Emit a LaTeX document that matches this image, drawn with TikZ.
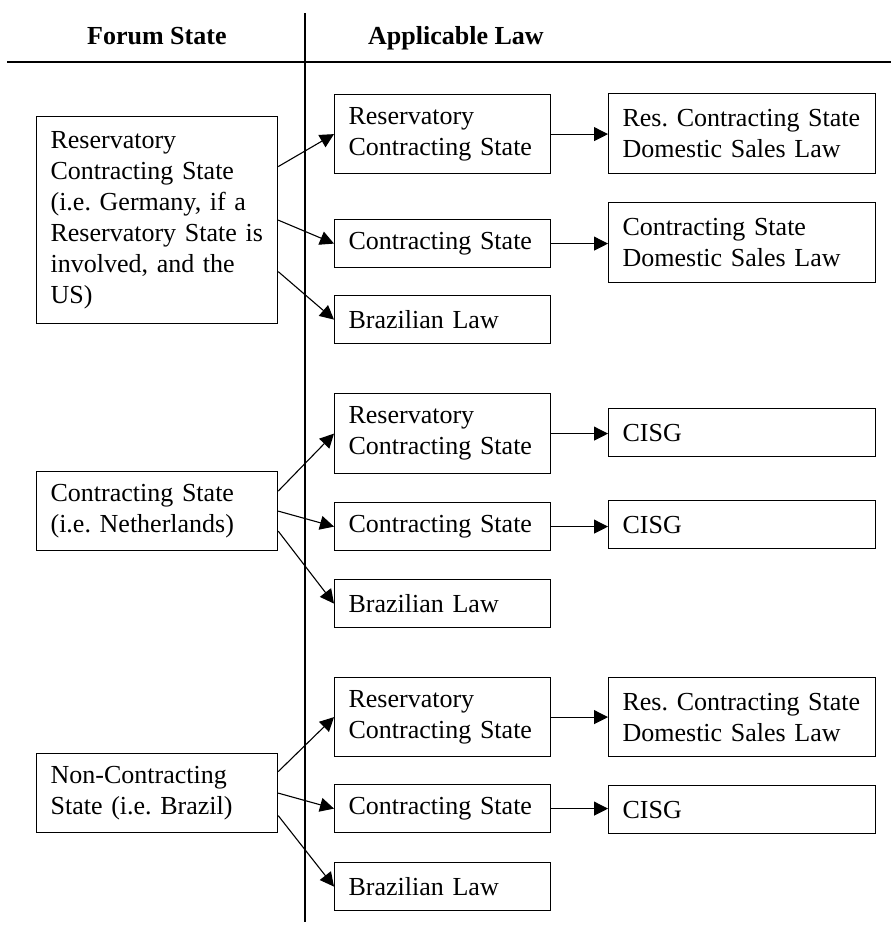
\documentclass[tikz,border=0pt]{standalone}
\usepackage{fontspec}
\setmainfont{Liberation Serif}
\usetikzlibrary{arrows.meta}
\frenchspacing
\begin{document}
\begin{tikzpicture}[x=1pt,y=1pt,
  every node/.style={font=\fontsize{26}{31}\selectfont\frenchspacing},
  box/.style={draw, line width=1.2pt, anchor=north west, inner xsep=14pt, inner ysep=0pt, align=left},
  lbox/.style={box, text width=213pt, minimum width=241pt},
  mbox/.style={box, text width=188pt, minimum width=216pt},
  rbox/.style={box, text width=239pt, minimum width=267pt},
  arr/.style={line width=1.1pt, -{Triangle[length=14pt,width=14pt]}},
  rule/.style={line width=1.2pt}]
\useasboundingbox (0,0) rectangle (892,-927);
% headers
\node[anchor=base west, inner sep=0, font=\fontsize{26}{31}\selectfont\bfseries] (hf) at (87,-44) {Forum State};
\node[anchor=base west, inner sep=0, font=\fontsize{26}{31}\selectfont\bfseries] (ha) at (368,-44) {Applicable Law};
\draw[rule] (7,-62) -- (891,-62);
\draw[rule] (305,-13) -- (305,-922);
% left boxes
\node[lbox, minimum height=207pt] (A) at (36,-116) {\mbox{Reservatory}\\\mbox{Contracting State}\\\mbox{(i.e. Germany, if a}\\\mbox{Reservatory State is}\\\mbox{involved, and the}\\\mbox{US)}};
\node[lbox, minimum height=79pt] (N) at (36,-471) {\mbox{Contracting State}\\\mbox{(i.e. Netherlands)}};
\node[lbox, minimum height=79pt] (NC) at (36,-753) {\mbox{Non-Contracting}\\\mbox{State (i.e. Brazil)}};
% middle boxes
\node[mbox, minimum height=79pt] (R1) at (334,-94) {\mbox{Reservatory}\\\mbox{Contracting State}};
\node[mbox, minimum height=48pt] (C1) at (334,-219) {\mbox{Contracting State}};
\node[mbox, minimum height=48pt] (B1) at (334,-295) {\mbox{Brazilian Law}};
\node[mbox, minimum height=80pt] (R2) at (334,-393) {\mbox{Reservatory}\\\mbox{Contracting State}};
\node[mbox, minimum height=48pt] (C2) at (334,-502) {\mbox{Contracting State}};
\node[mbox, minimum height=48pt] (B2) at (334,-579) {\mbox{Brazilian Law}};
\node[mbox, minimum height=79pt] (R3) at (334,-677) {\mbox{Reservatory}\\\mbox{Contracting State}};
\node[mbox, minimum height=48pt] (C3) at (334,-784) {\mbox{Contracting State}};
\node[mbox, minimum height=48pt] (B3) at (334,-862) {\mbox{Brazilian Law}};
% right boxes
\node[rbox, minimum height=80pt] (X1) at (608,-93) {\mbox{Res. Contracting State}\\\mbox{Domestic Sales Law}};
\node[rbox, minimum height=80pt] (X2) at (608,-202) {\mbox{Contracting State}\\\mbox{Domestic Sales Law}};
\node[rbox, minimum height=48pt] (X3) at (608,-408) {\mbox{CISG}};
\node[rbox, minimum height=48pt] (X4) at (608,-500) {\mbox{CISG}};
\node[rbox, minimum height=79pt] (X5) at (608,-677) {\mbox{Res. Contracting State}\\\mbox{Domestic Sales Law}};
\node[rbox, minimum height=48pt] (X6) at (608,-785) {\mbox{CISG}};
% arrows from forum states
\draw[arr] ([yshift=53.5pt]A.east) -- (R1.west);
\draw[arr] (A.east) -- (C1.west);
\draw[arr] ([yshift=-51.5pt]A.east) -- (B1.west);
\draw[arr] ([yshift=20pt]N.east) -- (R2.west);
\draw[arr] (N.east) -- (C2.west);
\draw[arr] ([yshift=-20pt]N.east) -- (B2.west);
\draw[arr] ([yshift=21.5pt]NC.east) -- (R3.west);
\draw[arr] (NC.east) -- (C3.west);
\draw[arr] ([yshift=-22.5pt]NC.east) -- (B3.west);
% arrows to laws
\draw[arr] (R1.east) -- (R1.east -| X1.west);
\draw[arr] (C1.east) -- (C1.east -| X2.west);
\draw[arr] (R2.east) -- (R2.east -| X3.west);
\draw[arr] (C2.east) -- (C2.east -| X4.west);
\draw[arr] (R3.east) -- (R3.east -| X5.west);
\draw[arr] (C3.east) -- (C3.east -| X6.west);
\end{tikzpicture}
\end{document}
